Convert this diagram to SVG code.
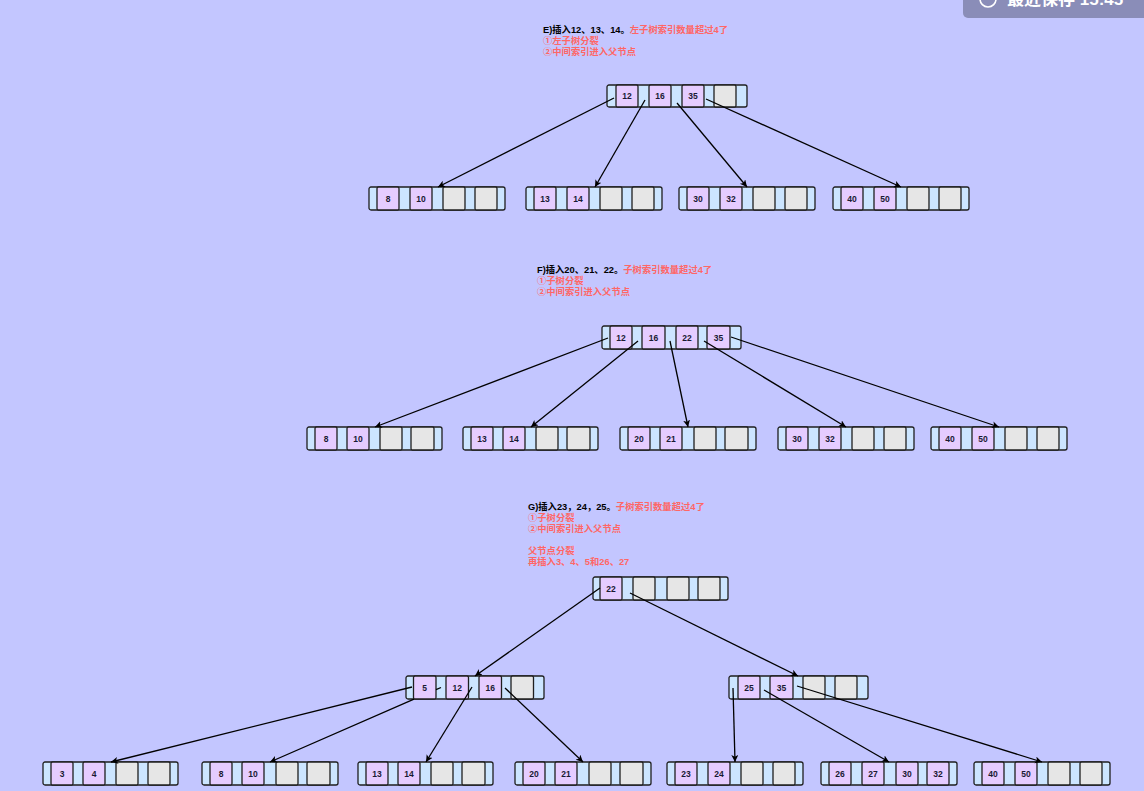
<svg xmlns="http://www.w3.org/2000/svg" width="1144" height="791" viewBox="0 0 1144 791">
<style>
.o{fill:#CCE5FF;stroke:#1f1f1f;stroke-width:1.3}
.k{fill:#E5CCFF;stroke:#1f1f1f;stroke-width:1.3}
.e{fill:#E6E6E6;stroke:#1f1f1f;stroke-width:1.3}
.t{font-family:"Liberation Sans","Noto Sans CJK SC",sans-serif;font-size:8.5px;font-weight:bold;fill:#1a1a33;text-anchor:middle;dominant-baseline:central}
.c{fill:none;stroke:#000;stroke-width:1.3;marker-end:url(#arr)}
.n{font-family:"Liberation Sans","Noto Sans CJK SC",sans-serif;font-size:9.3px;font-weight:bold;fill:#000}
.r{fill:#FF6666}
</style>
<defs>
<marker id="arr" markerUnits="userSpaceOnUse" markerWidth="10" markerHeight="10" refX="7" refY="3.5" orient="auto">
<path d="M0,0 L7,3.5 L0,7 L1.8,3.5 z" fill="#000"/>
</marker>
</defs>
<rect width="1144" height="791" fill="#C3C6FF"/>

<!-- save button -->
<g id="save-badge">
<rect x="963" y="-20" width="200" height="38" rx="5" fill="#8A8DB8"/>
<circle cx="988" cy="-1" r="8" fill="none" stroke="#fff" stroke-width="1.6"/>
<text x="1007" y="5" font-family="Liberation Sans,'Noto Sans CJK SC',sans-serif" font-size="17" font-weight="bold" fill="#fff">最近保存 15:45</text>
</g>

<!-- texts -->
<g id="label-E">
<text class="n" x="543" y="33">E)插入12、13、14。<tspan class="r">左子树索引数量超过4了</tspan></text>
<text class="n r" x="543" y="44">①左子树分裂</text>
<text class="n r" x="543" y="55">②中间索引进入父节点</text>
</g>
<g id="label-F">
<text class="n" x="537" y="273">F)插入20、21、22。<tspan class="r">子树索引数量超过4了</tspan></text>
<text class="n r" x="537" y="284">①子树分裂</text>
<text class="n r" x="537" y="295">②中间索引进入父节点</text>
</g>
<g id="label-G">
<text class="n" x="528" y="510">G)插入23，24，25。<tspan class="r">子树索引数量超过4了</tspan></text>
<text class="n r" x="528" y="521">①子树分裂</text>
<text class="n r" x="528" y="532">②中间索引进入父节点</text>
<text class="n r" x="528" y="554">父节点分裂</text>
<text class="n r" x="528" y="565">再插入3、4、5和26、27</text>
</g>

<!-- E -->
<g id="E-root" transform="translate(607,85)">
<rect class="o" width="140" height="22" rx="2"/>
<rect class="k" x="9" width="22" height="22" rx="1.5"/><text class="t" x="20" y="11">12</text>
<rect class="k" x="42" width="22" height="22" rx="1.5"/><text class="t" x="53" y="11">16</text>
<rect class="k" x="75" width="22" height="22" rx="1.5"/><text class="t" x="86" y="11">35</text>
<rect class="e" x="107" width="22" height="22" rx="1.5"/>
</g>
<g id="E-c1" transform="translate(369,187)">
<rect class="o" width="136" height="23" rx="2"/>
<rect class="k" x="8" width="22" height="23" rx="1.5"/><text class="t" x="19" y="11.5">8</text>
<rect class="k" x="41" width="22" height="23" rx="1.5"/><text class="t" x="52" y="11.5">10</text>
<rect class="e" x="74" width="22" height="23" rx="1.5"/>
<rect class="e" x="106" width="22" height="23" rx="1.5"/>
</g>
<g id="E-c2" transform="translate(526,187)">
<rect class="o" width="136" height="23" rx="2"/>
<rect class="k" x="8" width="22" height="23" rx="1.5"/><text class="t" x="19" y="11.5">13</text>
<rect class="k" x="41" width="22" height="23" rx="1.5"/><text class="t" x="52" y="11.5">14</text>
<rect class="e" x="74" width="22" height="23" rx="1.5"/>
<rect class="e" x="106" width="22" height="23" rx="1.5"/>
</g>
<g id="E-c3" transform="translate(679,187)">
<rect class="o" width="136" height="23" rx="2"/>
<rect class="k" x="8" width="22" height="23" rx="1.5"/><text class="t" x="19" y="11.5">30</text>
<rect class="k" x="41" width="22" height="23" rx="1.5"/><text class="t" x="52" y="11.5">32</text>
<rect class="e" x="74" width="22" height="23" rx="1.5"/>
<rect class="e" x="106" width="22" height="23" rx="1.5"/>
</g>
<g id="E-c4" transform="translate(833,187)">
<rect class="o" width="136" height="23" rx="2"/>
<rect class="k" x="8" width="22" height="23" rx="1.5"/><text class="t" x="19" y="11.5">40</text>
<rect class="k" x="41" width="22" height="23" rx="1.5"/><text class="t" x="52" y="11.5">50</text>
<rect class="e" x="74" width="22" height="23" rx="1.5"/>
<rect class="e" x="106" width="22" height="23" rx="1.5"/>
</g>

<!-- F -->
<g id="F-root" transform="translate(602,326)">
<rect class="o" width="139" height="23" rx="2"/>
<rect class="k" x="8" width="22" height="23" rx="1.5"/><text class="t" x="19" y="11.5">12</text>
<rect class="k" x="40" width="23" height="23" rx="1.5"/><text class="t" x="51.5" y="11.5">16</text>
<rect class="k" x="74" width="22" height="23" rx="1.5"/><text class="t" x="85" y="11.5">22</text>
<rect class="k" x="105" width="23" height="23" rx="1.5"/><text class="t" x="116.5" y="11.5">35</text>
</g>
<g id="F-c1" transform="translate(307,427)">
<rect class="o" width="135" height="23" rx="2"/>
<rect class="k" x="8" width="22" height="23" rx="1.5"/><text class="t" x="19" y="11.5">8</text>
<rect class="k" x="40" width="22" height="23" rx="1.5"/><text class="t" x="51" y="11.5">10</text>
<rect class="e" x="73" width="22" height="23" rx="1.5"/>
<rect class="e" x="104" width="23" height="23" rx="1.5"/>
</g>
<g id="F-c2" transform="translate(463,427)">
<rect class="o" width="135" height="23" rx="2"/>
<rect class="k" x="8" width="22" height="23" rx="1.5"/><text class="t" x="19" y="11.5">13</text>
<rect class="k" x="40" width="22" height="23" rx="1.5"/><text class="t" x="51" y="11.5">14</text>
<rect class="e" x="73" width="22" height="23" rx="1.5"/>
<rect class="e" x="104" width="23" height="23" rx="1.5"/>
</g>
<g id="F-c3" transform="translate(620,427)">
<rect class="o" width="136" height="23" rx="2"/>
<rect class="k" x="8" width="22" height="23" rx="1.5"/><text class="t" x="19" y="11.5">20</text>
<rect class="k" x="40" width="22" height="23" rx="1.5"/><text class="t" x="51" y="11.5">21</text>
<rect class="e" x="74" width="22" height="23" rx="1.5"/>
<rect class="e" x="105" width="23" height="23" rx="1.5"/>
</g>
<g id="F-c4" transform="translate(778,427)">
<rect class="o" width="136" height="23" rx="2"/>
<rect class="k" x="8" width="22" height="23" rx="1.5"/><text class="t" x="19" y="11.5">30</text>
<rect class="k" x="41" width="22" height="23" rx="1.5"/><text class="t" x="52" y="11.5">32</text>
<rect class="e" x="74" width="22" height="23" rx="1.5"/>
<rect class="e" x="106" width="22" height="23" rx="1.5"/>
</g>
<g id="F-c5" transform="translate(931,427)">
<rect class="o" width="136" height="23" rx="2"/>
<rect class="k" x="8" width="22" height="23" rx="1.5"/><text class="t" x="19" y="11.5">40</text>
<rect class="k" x="41" width="22" height="23" rx="1.5"/><text class="t" x="52" y="11.5">50</text>
<rect class="e" x="74" width="22" height="23" rx="1.5"/>
<rect class="e" x="106" width="22" height="23" rx="1.5"/>
</g>

<!-- G -->
<g id="G-root" transform="translate(593,577)">
<rect class="o" width="135" height="23" rx="2"/>
<rect class="k" x="7" width="22" height="23" rx="1.5"/><text class="t" x="18" y="11.5">22</text>
<rect class="e" x="40" width="22" height="23" rx="1.5"/>
<rect class="e" x="74" width="22" height="23" rx="1.5"/>
<rect class="e" x="105" width="22" height="23" rx="1.5"/>
</g>
<g id="G-m1" transform="translate(406,676)">
<rect class="o" width="138" height="23" rx="2"/>
<rect class="k" x="7.5" width="22.5" height="23" rx="1.5"/><text class="t" x="18.7" y="11.5">5</text>
<rect class="k" x="40" width="22.5" height="23" rx="1.5"/><text class="t" x="51.2" y="11.5">12</text>
<rect class="k" x="73" width="22.5" height="23" rx="1.5"/><text class="t" x="84.2" y="11.5">16</text>
<rect class="e" x="105" width="22.5" height="23" rx="1.5"/>
</g>
<g id="G-m2" transform="translate(729,676)">
<rect class="o" width="139" height="23" rx="2"/>
<rect class="k" x="9" width="22" height="23" rx="1.5"/><text class="t" x="20" y="11.5">25</text>
<rect class="k" x="41" width="23" height="23" rx="1.5"/><text class="t" x="52.5" y="11.5">35</text>
<rect class="e" x="74" width="22" height="23" rx="1.5"/>
<rect class="e" x="106" width="22" height="23" rx="1.5"/>
</g>
<g id="G-b1" transform="translate(43,762)">
<rect class="o" width="135" height="23" rx="2"/>
<rect class="k" x="8" width="22" height="23" rx="1.5"/><text class="t" x="19" y="11.5">3</text>
<rect class="k" x="40" width="22" height="23" rx="1.5"/><text class="t" x="51" y="11.5">4</text>
<rect class="e" x="73" width="22" height="23" rx="1.5"/>
<rect class="e" x="105" width="22" height="23" rx="1.5"/>
</g>
<g id="G-b2" transform="translate(202,762)">
<rect class="o" width="136" height="23" rx="2"/>
<rect class="k" x="8" width="22" height="23" rx="1.5"/><text class="t" x="19" y="11.5">8</text>
<rect class="k" x="40" width="22" height="23" rx="1.5"/><text class="t" x="51" y="11.5">10</text>
<rect class="e" x="74" width="22" height="23" rx="1.5"/>
<rect class="e" x="105" width="23" height="23" rx="1.5"/>
</g>
<g id="G-b3" transform="translate(358,762)">
<rect class="o" width="135" height="23" rx="2"/>
<rect class="k" x="8" width="22" height="23" rx="1.5"/><text class="t" x="19" y="11.5">13</text>
<rect class="k" x="40" width="22" height="23" rx="1.5"/><text class="t" x="51" y="11.5">14</text>
<rect class="e" x="73" width="22" height="23" rx="1.5"/>
<rect class="e" x="104" width="23" height="23" rx="1.5"/>
</g>
<g id="G-b4" transform="translate(515,762)">
<rect class="o" width="136" height="23" rx="2"/>
<rect class="k" x="8" width="22" height="23" rx="1.5"/><text class="t" x="19" y="11.5">20</text>
<rect class="k" x="40" width="22" height="23" rx="1.5"/><text class="t" x="51" y="11.5">21</text>
<rect class="e" x="74" width="22" height="23" rx="1.5"/>
<rect class="e" x="105" width="23" height="23" rx="1.5"/>
</g>
<g id="G-b5" transform="translate(667,762)">
<rect class="o" width="136" height="23" rx="2"/>
<rect class="k" x="8" width="22" height="23" rx="1.5"/><text class="t" x="19" y="11.5">23</text>
<rect class="k" x="41" width="22" height="23" rx="1.5"/><text class="t" x="52" y="11.5">24</text>
<rect class="e" x="74" width="22" height="23" rx="1.5"/>
<rect class="e" x="106" width="22" height="23" rx="1.5"/>
</g>
<g id="G-b6" transform="translate(821,762)">
<rect class="o" width="136" height="23" rx="2"/>
<rect class="k" x="8" width="22" height="23" rx="1.5"/><text class="t" x="19" y="11.5">26</text>
<rect class="k" x="41" width="22" height="23" rx="1.5"/><text class="t" x="52" y="11.5">27</text>
<rect class="k" x="75" width="22" height="23" rx="1.5"/><text class="t" x="86" y="11.5">30</text>
<rect class="k" x="106" width="22" height="23" rx="1.5"/><text class="t" x="117" y="11.5">32</text>
</g>
<g id="G-b7" transform="translate(974,762)">
<rect class="o" width="136" height="23" rx="2"/>
<rect class="k" x="8" width="22" height="23" rx="1.5"/><text class="t" x="19" y="11.5">40</text>
<rect class="k" x="41" width="22" height="23" rx="1.5"/><text class="t" x="52" y="11.5">50</text>
<rect class="e" x="74" width="22" height="23" rx="1.5"/>
<rect class="e" x="106" width="22" height="23" rx="1.5"/>
</g>

<!-- connectors -->
<g id="connectors">
<path class="c" d="M614,98 L438,187"/>
<path class="c" d="M645,100 L595,187"/>
<path class="c" d="M677,103 L747,187"/>
<path class="c" d="M706,99 L901,187"/>

<path class="c" d="M608,338 L375,427"/>
<path class="c" d="M638,341 L531,427"/>
<path class="c" d="M670,341 L688,427"/>
<path class="c" d="M704,341 L846,427"/>
<path class="c" d="M731,337 L999,427"/>

<path class="c" d="M600,588 L475,676"/>
<path class="c" d="M630,593 L798,676"/>

<path class="c" d="M412,687 L111,762"/>
<path class="c" d="M441,687.5 L436,689.7 M414,699.2 L270,762"/>
<path class="c" d="M472,687 L426,762"/>
<path class="c" d="M505,688 L583,762"/>
<path class="c" d="M733,688 L735,762"/>
<path class="c" d="M764,690 L889,762"/>
<path class="c" d="M797,686 L1042,762"/>
</g>
</svg>
